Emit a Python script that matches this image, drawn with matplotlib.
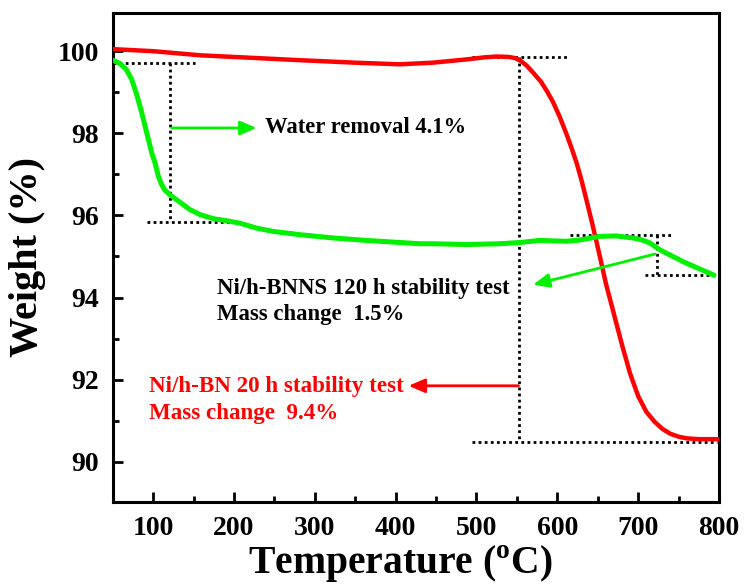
import matplotlib
matplotlib.use('Agg')
import matplotlib.pyplot as plt

# ── Data ────────────────────────────────────────────────────────────────────
green_temp = [50, 59, 67, 73.5, 79.7, 85.9, 92.1, 98.3, 102.3, 106.5, 110.6,
              114.7, 120.9, 129.1, 137.4, 145.6, 158, 174.5, 191, 207.5, 228,
              248.7, 281.7, 322.9, 364.1, 405, 430, 446, 488, 529, 554, 578,
              611, 628, 653, 673, 694, 705, 714.5, 727, 756, 793]
green_weight = [99.78, 99.70, 99.55, 99.31, 98.94, 98.50, 98.01, 97.52, 97.28,
                96.95, 96.75, 96.61, 96.50, 96.38, 96.26, 96.14, 96.02, 95.92,
                95.87, 95.81, 95.69, 95.61, 95.53, 95.45, 95.39, 95.34, 95.31,
                95.31, 95.29, 95.31, 95.34, 95.39, 95.37, 95.40, 95.49, 95.50,
                95.45, 95.40, 95.33, 95.16, 94.87, 94.55]

red_temp = [50, 100, 158, 220, 282, 350, 405, 446, 488, 510, 525, 540, 548, 555,
            562, 570, 580, 588, 595, 603, 611, 618, 624, 630, 636, 642, 648,
            654, 660, 670, 680, 690, 700, 710, 720, 730, 740, 750, 760, 775, 798]
red_weight = [100.05, 100.0, 99.90, 99.84, 99.78, 99.72, 99.68, 99.72, 99.80,
              99.85, 99.87, 99.86, 99.83, 99.76, 99.65, 99.48, 99.25, 99.0,
              98.75, 98.4, 98.0, 97.62, 97.27, 96.85, 96.38, 95.9, 95.4, 94.88,
              94.35, 93.6, 92.85, 92.15, 91.6, 91.22, 90.98, 90.8, 90.68, 90.61,
              90.57, 90.55, 90.55]

x_ticks = [100, 200, 300, 400, 500, 600, 700, 800]
y_ticks = [90, 92, 94, 96, 98, 100]

GREEN = '#00f000'
RED = '#ff0000'

plt.rcParams['font.family'] = ['Liberation Serif', 'DejaVu Serif']
plt.rcParams['font.weight'] = 'bold'
plt.rcParams['mathtext.fontset'] = 'custom'
plt.rcParams['mathtext.rm'] = 'Liberation Serif:bold'
plt.rcParams['mathtext.bf'] = 'Liberation Serif:bold'

fig = plt.figure(figsize=(7.48, 5.88), dpi=100)
ax = fig.add_axes([0.1507, 0.1463, 0.8105, 0.8316])

ax.plot(red_temp, red_weight, color=RED, lw=3.2, solid_joinstyle='round', zorder=3)
ax.plot(green_temp, green_weight, color=GREEN, lw=3.6, solid_joinstyle='round', zorder=3)

# dotted guide lines
dot = dict(color='black', lw=2.0, linestyle=(0, (1, 1.2)), zorder=2)
ax.plot([50, 152], [99.71, 99.71], **dot)
ax.plot([121, 121], [99.71, 95.84], **dot)
ax.plot([92, 207], [95.84, 95.84], **dot)

ax.plot([494, 613], [99.85, 99.85], **dot)
ax.plot([552.5, 552.5], [99.85, 90.48], **dot)
ax.plot([494, 797], [90.48, 90.48], **dot)

ax.plot([616, 741], [95.53, 95.53], **dot)
ax.plot([723, 723], [95.53, 94.55], **dot)
ax.plot([708, 797], [94.55, 94.55], **dot)

# arrows and annotations
arrow_kw = dict(arrowstyle='-|>,head_length=0.7,head_width=0.3', lw=2,
                mutation_scale=14, shrinkA=0, shrinkB=0)
ax.annotate('', xy=(228, 98.13), xytext=(123, 98.13),
            arrowprops=dict(color=GREEN, **arrow_kw), zorder=4)
ax.text(238, 98.13, 'Water removal 4.1%', fontsize=16.3, fontweight='bold',
        va='center', ha='left')

ax.annotate('', xy=(570, 94.31), xytext=(721, 95.06),
            arrowprops=dict(color=GREEN, **arrow_kw), zorder=4)
ax.text(179.5, 94.23, 'Ni/h-BNNS 120 h stability test', fontsize=16.4,
        fontweight='bold', va='center', ha='left')
ax.text(179.5, 93.58, 'Mass change  1.5%', fontsize=16.4, fontweight='bold',
        va='center', ha='left')

ax.annotate('', xy=(416, 91.85), xytext=(552, 91.85),
            arrowprops=dict(color=RED, **arrow_kw), zorder=4)
ax.text(95.4, 91.83, 'Ni/h-BN 20 h stability test', fontsize=16.6,
        fontweight='bold', va='center', ha='left', color=RED)
ax.text(95.4, 91.17, 'Mass change  9.4%', fontsize=16.6, fontweight='bold',
        va='center', ha='left', color=RED)

ax.set_xlim(50, 800)
ax.set_ylim(89.02, 100.93)
ax.set_xticks(x_ticks)
ax.set_yticks(y_ticks)
ax.set_xticks([150, 250, 350, 450, 550, 650, 750], minor=True)
ax.set_yticks([91, 93, 95, 97, 99], minor=True)
ax.tick_params(which='major', direction='in', length=7, width=2, labelsize=20,
               pad=10, top=False, right=False)
ax.tick_params(which='minor', direction='in', length=4, width=2,
               top=False, right=False)
for lab in ax.get_xticklabels() + ax.get_yticklabels():
    lab.set_fontweight('bold')
for sp in ax.spines.values():
    sp.set_linewidth(2.2)

ax.set_xlabel(r'Temperature ($^{\mathrm{o}}$C)', fontsize=28.5, fontweight='bold')
ax.xaxis.set_label_coords(0.474, -0.083)
ax.set_ylabel('Weight (%)', fontsize=29, fontweight='bold', labelpad=8)

fig.savefig('out.png', dpi=100)
